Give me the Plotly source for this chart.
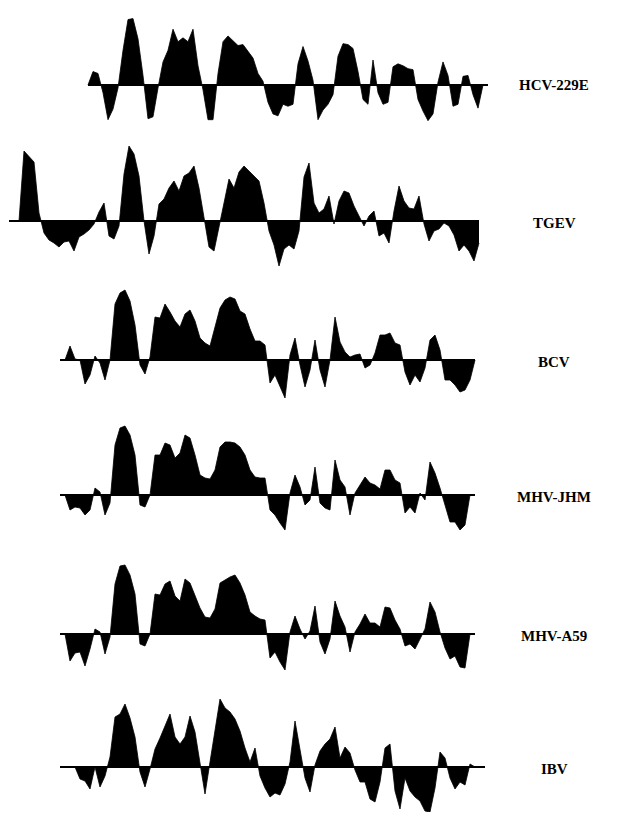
import numpy as np
import plotly.graph_objects as go

# Hydropathy profiles (arbitrary units, positive = hydrophobic), sampled every 5 positions
labels = ["HCV-229E", "TGEV", "BCV", "MHV-JHM", "MHV-A59", "IBV"]

hcv229e = [0, 14, 12, -8, -36, -25, -3, 36, 68, 69, 48, 10, -35, -33, -3, 24, 36, 58, 45, 49,
           45, 58, 20, -5, -36, -36, 12, 45, 51, 46, 41, 42, 35, 28, 12, 4, -18, -30, -32,
           -20, -22, -20, 22, 40, 25, 5, -36, -26, -20, -10, 30, 43, 42, 38, 14, -15, -20, 26,
           -8, -20, -18, 19, 22, 20, 17, 16, -15, -27, -37, -30, 3, 24, 10, -22, -20, 9, 10,
           -10, -24, 0, 0]

tgev = [0, 0, 0, 70, 65, 59, 8, -12, -19, -22, -26, -21, -20, -30, -16, -13, -9, -3, 9, 18,
        -15, -18, -5, 47, 75, 67, 45, 0, -33, -15, 17, 22, 33, 40, 30, 45, 48, 55, 33, 3,
        -26, -30, -5, 18, 42, 33, 49, 55, 50, 45, 40, 18, -10, -24, -45, -28, -24, -28, -10, 44,
        58, 18, 8, 12, 25, -3, 20, 30, 28, 15, 5, -5, 5, 10, -15, -12, -22, 10, 35, 20,
        13, 12, 25, -3, -20, -10, -8, -2, -5, -14, -30, -24, -30, -40, -22]

bcv = [0, 0, 14, 1, 0, -24, -15, 4, -3, -20, 0, 56, 67, 70, 59, 35, -5, -14, 3, 43,
       42, 56, 48, 39, 33, 46, 50, 39, 22, 17, 14, 33, 52, 60, 63, 61, 49, 46, 31, 19,
       19, 15, -23, -15, -26, -38, 5, 22, -5, -27, -10, 20, -10, -27, 0, 43, 18, 8, 3, 5,
       6, -8, -5, 7, 25, 25, 27, 17, 15, -12, -25, -15, -22, -8, 20, 25, 10, -20, -20, -25,
       -32, -30, -20, 0]

mhv_jhm = [0, 0, -15, -12, -13, -20, -15, 7, 3, -20, -8, 50, 67, 69, 60, 40, -10, -12, 0, 40,
           40, 52, 50, 37, 42, 60, 57, 40, 20, 17, 16, 25, 48, 53, 53, 52, 48, 40, 25, 18,
           17, 17, -15, -20, -28, -35, 2, 20, 8, -10, -5, 28, -8, -13, -15, 35, 15, 8, -20, 2,
           10, 18, 12, 10, 6, 25, 25, 15, 12, -18, -12, -18, 2, -5, 33, 22, 7, -10, -27, -27,
           -35, -30, 0, 0]

mhv_a59 = [0, 0, -27, -19, -18, -32, -15, 5, 2, -20, -3, 50, 68, 69, 59, 40, -10, -12, 0, 40,
           39, 50, 53, 38, 33, 55, 51, 39, 26, 17, 16, 25, 51, 54, 57, 59, 51, 39, 22, 18,
           15, 14, -24, -18, -28, -36, 2, 18, 5, -5, 3, 28, -8, -20, -5, 33, 18, 7, -18, 2,
           10, 20, 11, 11, 7, 27, 26, 14, 5, -12, -10, -15, -5, 5, 32, 22, 2, -14, -25, -22,
           -33, -34, 0, 0]

ibv = [0, 0, 0, 0, -12, -14, -22, 0, -20, -9, 10, 50, 53, 63, 49, 30, -5, -20, -2, 18,
       29, 42, 53, 30, 23, 30, 51, 35, 5, -27, 5, 39, 68, 59, 55, 48, 36, 19, 5, 19,
       -9, -21, -30, -26, -28, -17, 5, 46, 18, -11, -25, 2, 16, 23, 28, 40, 9, 20, 14, -3,
       -15, -15, -32, -35, -15, 19, 23, -24, -42, -11, -24, -30, -34, -44, -45, -21, 15, 9, -11, -22,
       -15, -18, 3, 0, 0, 0]

series = [hcv229e, tgev, bcv, mhv_jhm, mhv_a59, ibv]

# layout parameters (pixels of the 634x820 page; the html body adds an 8px margin)
PAGE_W, PAGE_H = 634, 820
BODY = 8
W, H = PAGE_W - 2 * BODY, PAGE_H - 2 * BODY
STEP = 5
x_start = [88, 9, 60, 60, 60, 60]
baseline_px = [83, 221, 360, 495, 634, 767]
label_x_px = 554
Y_TOP = 80

fig = go.Figure()
for i, (name, vals) in enumerate(zip(labels, series)):
    n = len(vals)
    x = (x_start[i] - BODY) + STEP * np.arange(n)
    sfx = "" if i == 0 else str(i + 1)
    fig.add_trace(go.Scatter(
        x=x, y=vals, mode="lines", line=dict(color="black", width=0.8),
        fill="tozeroy", fillcolor="black", xaxis="x" + sfx, yaxis="y" + sfx,
        hoverinfo="skip", showlegend=False))
    fig.add_trace(go.Scatter(
        x=[x[0], x[-1]], y=[0, 0], mode="lines", line=dict(color="black", width=2),
        xaxis="x" + sfx, yaxis="y" + sfx, hoverinfo="skip", showlegend=False))
    b = baseline_px[i] - BODY
    lo = -min(55, H - b)
    dom = [max(0, 1 - (b - lo) / H), min(1, 1 - (b - Y_TOP) / H)]
    lo_eff = -(1 - dom[0]) * H + b  # adjust range if domain clipped
    lo = -(H * (1 - dom[0]) - b) if dom[0] == 0 else lo
    fig.layout["yaxis" + sfx] = dict(domain=dom, range=[lo, Y_TOP], visible=False,
                                     anchor="x" + sfx, fixedrange=True)
    fig.layout["xaxis" + sfx] = dict(domain=[0, 1], range=[0, W], visible=False,
                                     anchor="y" + sfx, fixedrange=True)
    fig.add_annotation(text="<b>" + name + "</b>", x=(label_x_px - BODY) / W,
                       y=1 - (b + 2) / H, xref="paper", yref="paper", showarrow=False,
                       xanchor="center", yanchor="middle",
                       font=dict(family="Liberation Serif", size=15, color="black"))

fig.update_layout(width=W, height=H, margin=dict(l=0, r=0, t=0, b=0),
                  paper_bgcolor="white", plot_bgcolor="white")
fig.write_html("out.html")
